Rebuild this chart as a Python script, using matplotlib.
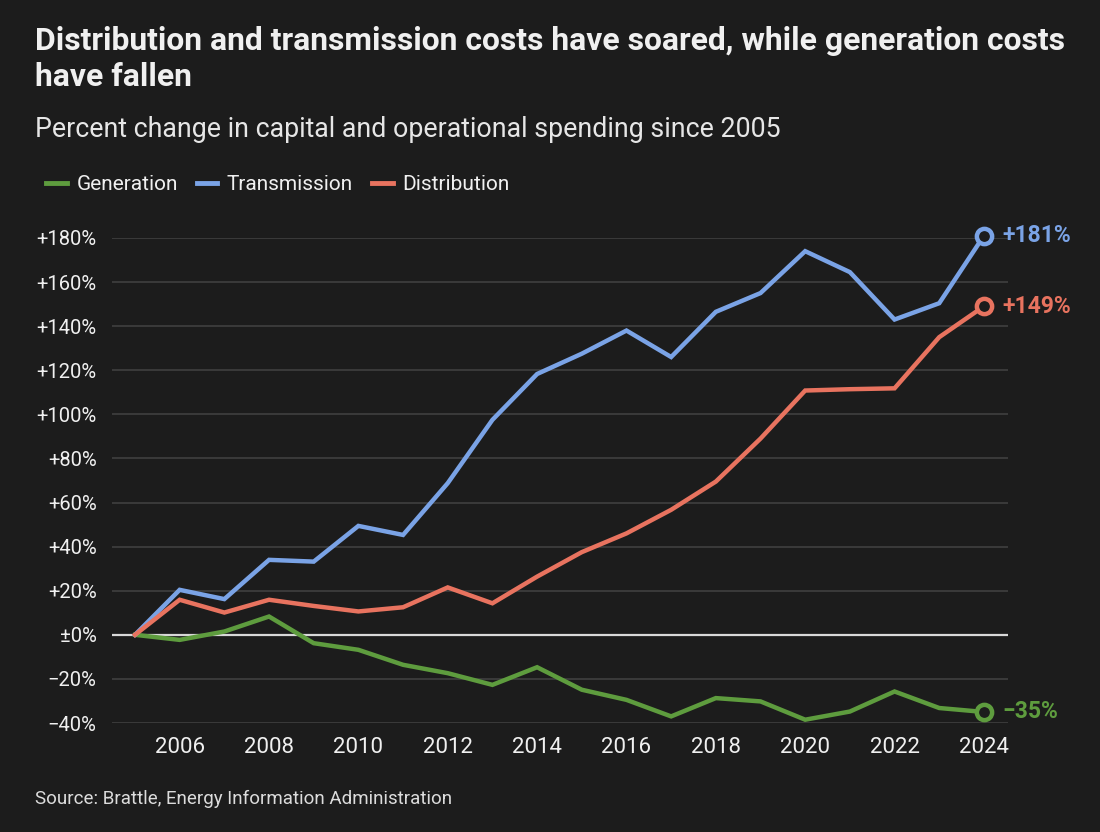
import matplotlib
matplotlib.use("Agg")
import matplotlib.pyplot as plt
from matplotlib.lines import Line2D

years = list(range(2005, 2025))
generation = [0, -2.3, 1.5, 8.3, -3.8, -6.8, -13.6, -17.4, -22.7, -14.7,
              -24.9, -29.5, -37.0, -28.7, -30.2, -38.5, -34.8, -25.7, -33.2, -35.0]
transmission = [0, 20.4, 16.2, 34.0, 33.2, 49.4, 45.3, 68.8, 97.5, 118.3,
                 127.5, 138.0, 126.0, 146.5, 155.0, 174.0, 164.5, 143.0, 150.4, 181.0]
distribution = [0, 15.9, 10.1, 15.9, 13.1, 10.6, 12.5, 21.5, 14.3, 26.4,
                37.5, 46.0, 56.7, 69.5, 89.0, 110.8, 111.4, 111.8, 135.0, 149.0]
series_names = ["Generation", "Transmission", "Distribution"]
end_labels = ["\u221235%", "+181%", "+149%"]
y_ticks = [-40, -20, 0, 20, 40, 60, 80, 100, 120, 140, 160, 180]
x_ticks = [2006, 2008, 2010, 2012, 2014, 2016, 2018, 2020, 2022, 2024]

BG = "#1c1c1c"
TEXT = "#f0f0f0"
colors = ["#5e9c3e", "#7aa3e6", "#e8735f"]

plt.rcParams["font.family"] = ["Roboto", "DejaVu Sans"]

fig = plt.figure(figsize=(11, 8.32), dpi=100, facecolor=BG)
ax = fig.add_axes([0.1018, 0.131, 0.8146, 0.583], facecolor=BG)

for idx, values in enumerate([generation, transmission, distribution]):
    ax.plot(years, values, color=colors[idx], linewidth=3.2, solid_joinstyle="miter",
            clip_on=False, zorder=3)
    ax.plot(years[-1], values[-1], marker="o", markersize=11, markerfacecolor=BG,
            markeredgecolor=colors[idx], markeredgewidth=3.2, clip_on=False, zorder=4)
    ax.annotate(end_labels[idx], (years[-1], values[-1]), xytext=(13, 0),
                textcoords="offset points", ha="left", va="center",
                color=colors[idx], fontsize=16.5, fontweight="bold",
                annotation_clip=False)

for tick in y_ticks:
    if tick == 0:
        ax.axhline(0, color="#d8d8d8", linewidth=1.6, zorder=2)
    else:
        ax.axhline(tick, color="#3a3a3a", linewidth=1.4, zorder=1)

ax.set_xlim(2004.485, 2024.54)
ax.set_ylim(-40, 180)
ax.set_yticks(y_ticks)
ax.set_yticklabels([("+" if t > 0 else ("\u00b1" if t == 0 else "\u2212")) + f"{abs(t)}%"
                    for t in y_ticks])
ax.set_xticks(x_ticks)
ax.tick_params(axis="both", length=0, colors=TEXT)
ax.tick_params(axis="y", pad=11, labelsize=14.5)
ax.tick_params(axis="x", pad=10, labelsize=16)
for spine in ax.spines.values():
    spine.set_visible(False)

title = fig.text(0.032, 0.929,
                 "Distribution and transmission costs have soared, while generation costs\nhave fallen",
                 color=TEXT, fontsize=20, fontweight="bold", ha="left", va="center",
                 linespacing=1.22)
# shrink the title so its first line spans the same width as the reference
fig.canvas.draw()
first_line = fig.text(0, 0, title.get_text().split("\n")[0], fontsize=20, fontweight="bold")
line_width = first_line.get_window_extent().width
first_line.remove()
title.set_fontsize(20 * 1030 / line_width)

fig.text(0.032, 0.844, "Percent change in capital and operational spending since 2005",
         color="#e6e6e6", fontsize=19.3, ha="left", va="center")

handles = [Line2D([0], [0], color=c, linewidth=3.5) for c in colors]
fig.legend(handles, series_names, loc="center left", bbox_to_anchor=(0.025, 0.778),
           ncol=3, frameon=False, fontsize=15, labelcolor=TEXT, handlelength=1.0,
           handletextpad=0.45, columnspacing=0.9)

fig.text(0.032, 0.040, "Source: Brattle, Energy Information Administration",
         color="#dcdcdc", fontsize=13.5, ha="left", va="center")

fig.savefig("out.png", dpi=100, facecolor=BG)
